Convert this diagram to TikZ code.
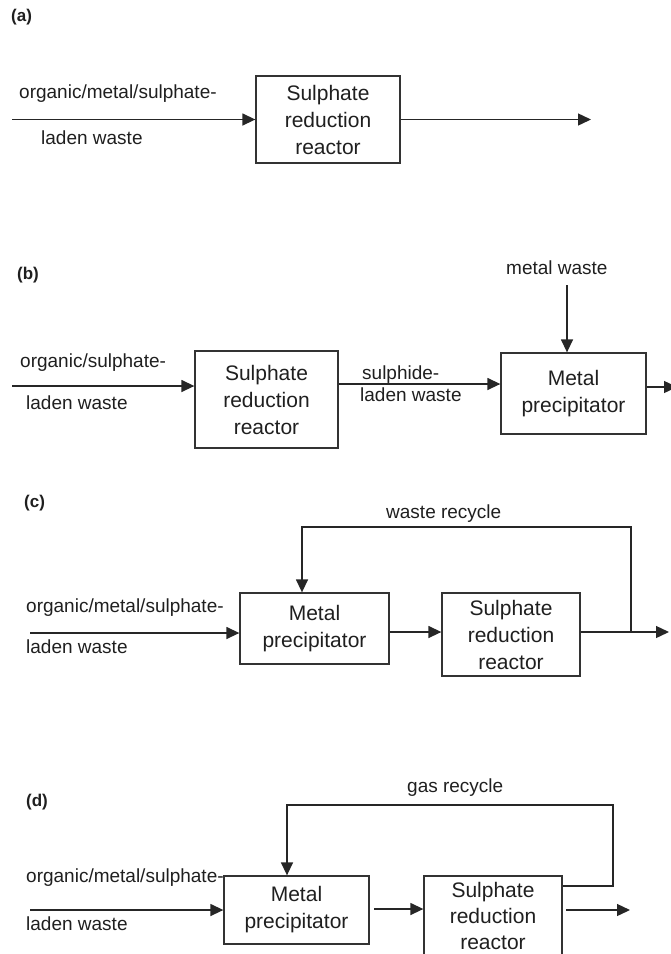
\documentclass[tikz,border=0pt]{standalone}
\usepackage{fontspec}
\setmainfont{Liberation Sans}
\usetikzlibrary{arrows.meta}
\begin{document}
\begin{tikzpicture}[x=1pt,y=-1pt,
  every node/.style={font=\fontsize{19}{26}\selectfont, inner sep=0pt, text=black!88},
  unitbox/.style={draw=black!80, line width=1.3pt, align=center, font=\fontsize{21}{27}\selectfont},
  flow/.style={draw=black!85, line width=1.4pt, -{Triangle[length=13pt,width=12pt]}},
  tag/.style={anchor=west, font=\bfseries\fontsize{17}{20}\selectfont},
  lbl/.style={anchor=west}]
\useasboundingbox (0,0) rectangle (671,954);

% ---------- (a) single sulphate reduction reactor ----------
\node[tag] (ta) at (11,17) {(a)};
\node[unitbox, minimum width=144, minimum height=87] (a1) at (328,119.5) {Sulphate\\reduction\\reactor};
\coordinate (ain) at (12,119.5);
\coordinate (aout) at (591,119.5);
\draw[flow] (ain) -- (a1.west);
\draw[flow] (a1.east) -- (aout);
\node[lbl] (al1) at (19,94) {organic/metal/sulphate-};
\node[lbl] (al2) at (41,138) {laden waste};

% ---------- (b) reactor followed by metal precipitator ----------
\node[tag] (tb) at (17,275) {(b)};
\node[unitbox, minimum width=143, minimum height=97] (b1) at (266.5,399.5) {Sulphate\\reduction\\reactor};
\node[unitbox, minimum width=145, minimum height=81] (b2) at (573.5,393.5) {Metal\\precipitator};
\coordinate (bin) at (12,386);
\coordinate (bmid) at (0,384);
\coordinate (bout) at (677,387);
\coordinate (bmw) at (567,285);
\draw[flow] (bin) -- (bin -| b1.west);
\draw[flow] (bmid -| b1.east) -- (bmid -| b2.west);
\draw[flow] (bout -| b2.east) -- (bout);
\draw[flow] (bmw) -- (bmw |- b2.north);
\node[lbl] (bl1) at (20,363) {organic/sulphate-};
\node[lbl] (bl2) at (26,403) {laden waste};
\node[lbl] (bl3) at (362,375) {sulphide-};
\node[lbl] (bl4) at (360,395) {laden waste};
\node[lbl] (bl5) at (506,268) {metal waste};

% ---------- (c) precipitator, reactor and waste recycle ----------
\node[tag] (tc) at (24,503) {(c)};
\node[unitbox, minimum width=149, minimum height=71] (c1) at (314.5,628.5) {Metal\\precipitator};
\node[unitbox, minimum width=138, minimum height=83] (c2) at (511,634.5) {Sulphate\\reduction\\reactor};
\coordinate (cin) at (30,633);
\coordinate (cmid) at (0,632);
\coordinate (cj) at (631,632);
\coordinate (cout) at (669,632);
\coordinate (ctop) at (302,527);
\draw[flow] (cin) -- (cin -| c1.west);
\draw[flow] (cmid -| c1.east) -- (cmid -| c2.west);
\draw[flow] (cj -| c2.east) -- (cout);
\draw[flow] (cj) |- (ctop) -- (ctop |- c1.north);
\node[lbl] (cl1) at (26,608) {organic/metal/sulphate-};
\node[lbl] (cl2) at (26,647) {laden waste};
\node[lbl] (cl3) at (386,514) {waste recycle};

% ---------- (d) precipitator, reactor and gas recycle ----------
\node[tag] (td) at (26,802) {(d)};
\node[unitbox, minimum width=145, minimum height=68] (d1) at (296.5,910) {Metal\\precipitator};
\node[unitbox, minimum width=138, minimum height=80, font=\fontsize{21}{26}\selectfont] (d2) at (493,916) {Sulphate\\reduction\\reactor};
\coordinate (din) at (30,910);
\coordinate (dm) at (374,909);
\coordinate (dos) at (566,910);
\coordinate (dout) at (630,910);
\coordinate (dr) at (0,886);
\coordinate (drc) at (613,805);
\coordinate (drl) at (287,805);
\draw[flow] (din) -- (din -| d1.west);
\draw[flow] (dm) -- (dm -| d2.west);
\draw[flow] (dos) -- (dout);
\draw[flow] (dr -| d2.east) -| (drc) -- (drl) -- (drl |- d1.north);
\node[lbl] (dl1) at (26,878) {organic/metal/sulphate-};
\node[lbl] (dl2) at (26,924) {laden waste};
\node[lbl] (dl3) at (407,788) {gas recycle};
\end{tikzpicture}
\end{document}
